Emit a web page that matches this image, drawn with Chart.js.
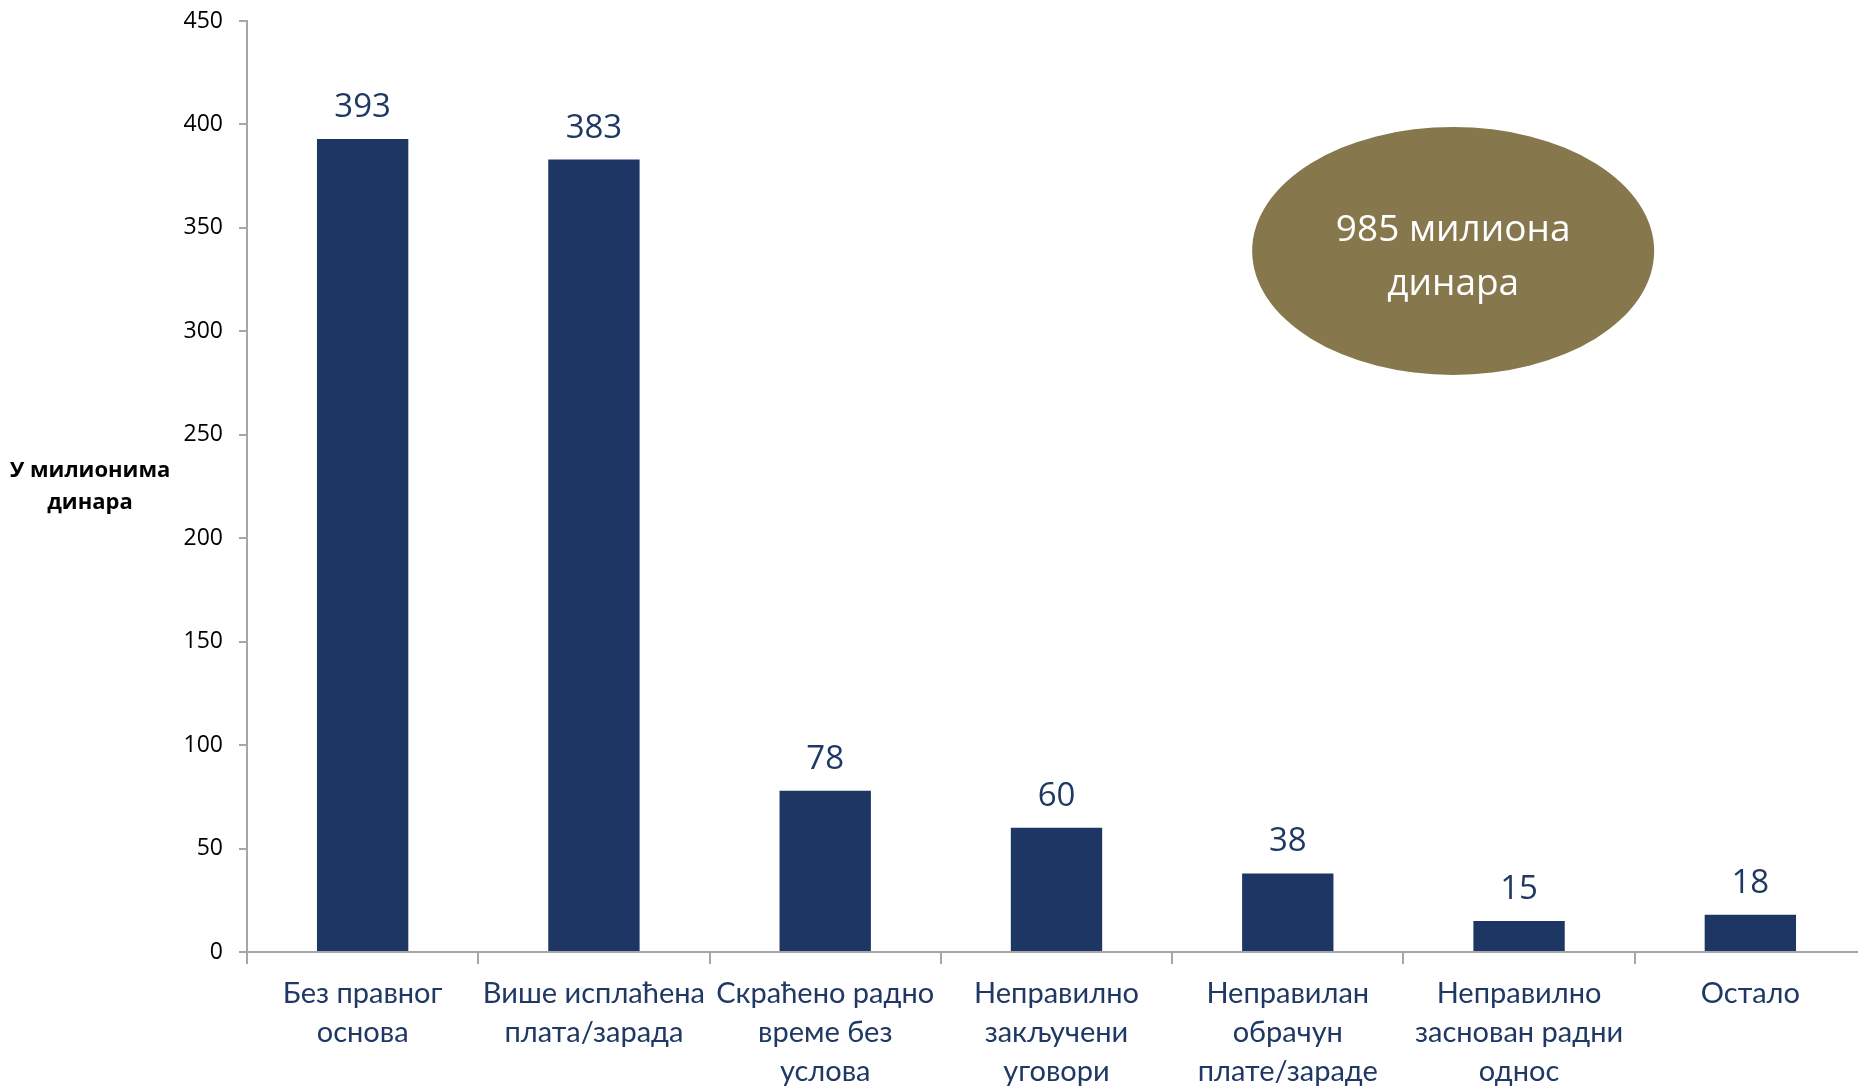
<!DOCTYPE html>
<html>
<head>
<meta charset="utf-8">
<script src="https://cdn.jsdelivr.net/npm/chart.js@4"></script>
<style>
html,body{margin:0;padding:0;background:#fff;overflow:hidden;}
#wrap{width:1858px;height:1086px;position:relative;overflow:hidden;}
canvas{position:absolute;left:0;top:0;}
</style>
</head>
<body>
<div id="wrap"><canvas id="c" width="1866" height="1086"></canvas></div>
<script>
const categories = [
  ["Без правног", "основа"],
  ["Више исплаћена", "плата/зарада"],
  ["Скраћено радно", "време без", "услова"],
  ["Неправилно", "закључени", "уговори"],
  ["Неправилан", "обрачун", "плате/зараде"],
  ["Неправилно", "заснован радни", "однос"],
  ["Остало"]
];
const values = [393, 383, 78, 60, 38, 15, 18];
const yTicks = [0, 50, 100, 150, 200, 250, 300, 350, 400, 450];
const yTitleLines = ["У милионима", "динара"];
const bubbleLines = ["985 милиона", "динара"];

const NAVY = "#1f3864";
const BAR = "#1e3664";
const AXIS = "#a6a6a6";

const extras = {
  id: "extras",
  afterDatasetsDraw(chart) {
    const ctx = chart.ctx;
    const meta = chart.getDatasetMeta(0);
    ctx.save();
    ctx.fillStyle = NAVY;
    ctx.font = "33px 'Open Sans'";
    ctx.textAlign = "center";
    ctx.textBaseline = "alphabetic";
    meta.data.forEach((bar, i) => {
      ctx.fillText(String(values[i]), bar.x, bar.y - 22);
    });
    // y title
    const a = chart.chartArea;
    ctx.fillStyle = "#000";
    ctx.font = "bold 22px 'Open Sans'";
    ctx.textBaseline = "middle";
    const cx = a.left - 157;
    const cy = (a.top + a.bottom) / 2;
    ctx.fillText(yTitleLines[0], cx, cy - 16);
    ctx.fillText(yTitleLines[1], cx, cy + 16);
    // bubble
    const w = a.right - a.left, h = a.bottom - a.top;
    const ex = a.left + w * 0.745, ey = a.top + h * 0.247;
    ctx.beginPath();
    ctx.ellipse(ex, ey, 201, 124, 0, 0, Math.PI * 2);
    ctx.fillStyle = "#86774d";
    ctx.fill();
    ctx.fillStyle = "#fff";
    ctx.font = "37px 'Open Sans'";
    ctx.fillText(bubbleLines[0], ex, ey - 21);
    ctx.fillText(bubbleLines[1], ex, ey + 33);
    ctx.restore();
  }
};

new Chart(document.getElementById("c"), {
  type: "bar",
  data: {
    labels: categories,
    datasets: [{
      data: values,
      backgroundColor: BAR,
      categoryPercentage: 1,
      barPercentage: 0.395
    }]
  },
  options: {
    responsive: false,
    animation: false,
    devicePixelRatio: 1,
    layout: { padding: { top: 21, right: 0, left: 0, bottom: 0 } },
    plugins: { legend: { display: false }, tooltip: { enabled: false } },
    scales: {
      x: {
        offset: true,
        border: { color: AXIS, width: 2 },
        grid: { offset: true, drawOnChartArea: false, drawTicks: true, tickLength: 12, color: AXIS, lineWidth: 2 },
        ticks: { color: NAVY, font: { family: "Lato", size: 29, lineHeight: 1.35 }, padding: 10, maxRotation: 0, autoSkip: false },
        afterFit(s) { s.height = 134; s.paddingLeft = 0; s.paddingRight = 0; }
      },
      y: {
        min: 0, max: 450,
        afterBuildTicks(s) { s.ticks = yTicks.map(v => ({ value: v })); },
        border: { color: AXIS, width: 2 },
        grid: { drawOnChartArea: false, drawTicks: true, tickLength: 8, color: AXIS, lineWidth: 2 },
        ticks: { color: "#000", font: { family: "Open Sans", size: 23 }, padding: 16 },
        afterFit(s) { s.width = 247; s.paddingTop = 0; s.paddingBottom = 0; }
      }
    }
  },
  plugins: [extras]
});
</script>
</body>
</html>
